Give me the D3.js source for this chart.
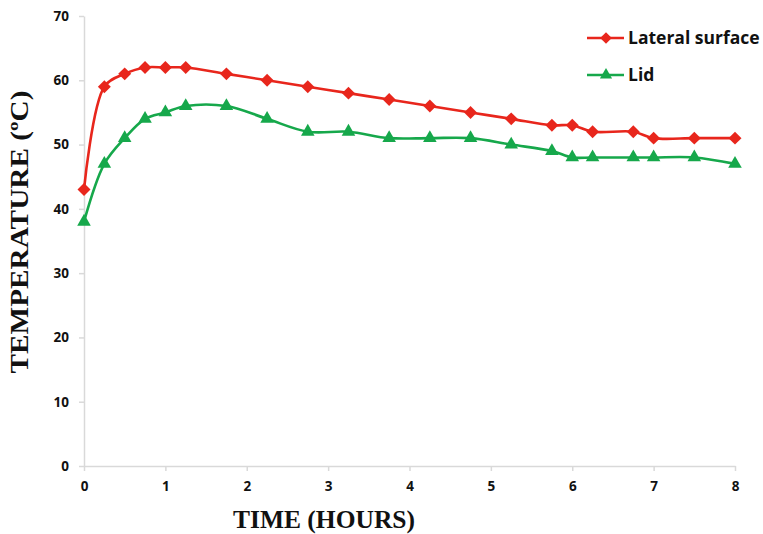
<!DOCTYPE html>
<html>

<head>
    <title>
        Temperature Chart
    </title>
    <script src="https://cdn.jsdelivr.net/npm/d3@7/dist/d3.min.js"></script>
    <style>
        body { margin: 0; background: #fff; }
    </style>
</head>

<body>
    <svg></svg>
    <script>
        const width = 763;
        const height = 534;
        const padding = { top: 16, bottom: 68, left: 84, right: 28 };

        // data
        const hours = [0, 0.25, 0.5, 0.75, 1, 1.25, 1.75, 2.25, 2.75, 3.25, 3.75, 4.25, 4.75, 5.25, 5.75, 6, 6.25, 6.75, 7, 7.5, 8];
        const lateral = [43, 59, 61, 62, 62, 62, 61, 60, 59, 58, 57, 56, 55, 54, 53, 53, 52, 52, 51, 51, 51];
        const lid = [38, 47, 51, 54, 55, 56, 56, 54, 52, 52, 51, 51, 51, 50, 49, 48, 48, 48, 48, 48, 47];
        const xTicks = [0, 1, 2, 3, 4, 5, 6, 7, 8];
        const yTicks = [0, 10, 20, 30, 40, 50, 60, 70];

        // square turned on its corner, wider than d3's own diamond
        const squareDiamond = {
            draw(context, size) {
                const r = Math.sqrt(size / 2);
                context.moveTo(0, -r);
                context.lineTo(r, 0);
                context.lineTo(0, r);
                context.lineTo(-r, 0);
                context.closePath();
            }
        };

        const series = [
            { name: "Lateral surface", values: lateral, color: "#e8261c", marker: squareDiamond, size: 84 },
            { name: "Lid", values: lid, color: "#16a84b", marker: d3.symbolTriangle, size: 80 }
        ];

        let svg = d3.select("svg")
            .attr("width", width)
            .attr("height", height);

        let xScale = d3.scaleLinear()
            .domain([0, 8])
            .range([padding.left, width - padding.right]);

        let yScale = d3.scaleLinear()
            .domain([0, 70])
            .range([height - padding.bottom, padding.top]);

        let xAxis = d3.axisBottom(xScale)
            .tickValues(xTicks)
            .tickSize(5)
            .tickPadding(8)
            .tickSizeOuter(0);
        let yAxis = d3.axisLeft(yScale)
            .tickValues(yTicks)
            .tickSize(5)
            .tickPadding(10)
            .tickSizeOuter(0);

        let gx = svg.append("g")
            .attr("transform", "translate(0," + (height - padding.bottom) + ")")
            .call(xAxis);
        let gy = svg.append("g")
            .attr("transform", "translate(" + padding.left + ",0)")
            .call(yAxis);

        [gx, gy].forEach(g => {
            g.selectAll("path, line").attr("stroke", "#d9d9d9").attr("stroke-width", 1.5);
            g.selectAll("text")
                .attr("fill", "#111")
                .style("font-family", "'Open Sans', sans-serif")
                .style("font-weight", "bold")
                .style("font-size", "13.5px");
        });
        gx.selectAll("text").attr("dy", "0.9em");

        let line = d3.line()
            .x((d) => xScale(d[0]))
            .y((d) => yScale(d[1]))
            .curve(d3.curveCatmullRom.alpha(0.5));

        series.forEach(s => {
            let pts = hours.map((h, i) => [h, s.values[i]]);
            svg.append("path")
                .attr("d", line(pts))
                .attr("fill", "none")
                .attr("stroke", s.color)
                .attr("stroke-width", 2.6);
            svg.append("g")
                .selectAll("path")
                .data(pts)
                .enter()
                .append("path")
                .attr("transform", (d) => "translate(" + xScale(d[0]) + "," + yScale(d[1]) + ")")
                .attr("d", d3.symbol().type(s.marker).size(s.size))
                .attr("fill", s.color);
        });

        // legend
        let legend = svg.append("g").attr("transform", "translate(587,38)");
        series.forEach((s, i) => {
            let lg = legend.append("g").attr("transform", "translate(0," + (i * 37) + ")");
            lg.append("line")
                .attr("x1", 0).attr("x2", 37)
                .attr("stroke", s.color).attr("stroke-width", 2.6);
            lg.append("path")
                .attr("transform", "translate(19,0)")
                .attr("d", d3.symbol().type(s.marker).size(s.size * 0.8))
                .attr("fill", s.color);
            lg.append("text")
                .attr("x", 41)
                .attr("dy", "0.35em")
                .text(s.name)
                .attr("fill", "#111")
                .style("font-family", "'Open Sans', sans-serif")
                .style("font-weight", "bold")
                .style("font-size", "17.5px");
        });

        // axis titles
        svg.append("text")
            .attr("x", 324)
            .attr("y", 528)
            .attr("text-anchor", "middle")
            .attr("textLength", 182)
            .attr("lengthAdjust", "spacingAndGlyphs")
            .style("font-family", "'Liberation Serif', 'Times New Roman', serif")
            .style("font-weight", "bold")
            .style("font-size", "25px")
            .attr("fill", "#111")
            .text("TIME (HOURS)");

        svg.append("text")
            .attr("transform", "translate(28,232) rotate(-90)")
            .attr("text-anchor", "middle")
            .attr("textLength", 283)
            .attr("lengthAdjust", "spacingAndGlyphs")
            .style("font-family", "'Liberation Serif', 'Times New Roman', serif")
            .style("font-weight", "bold")
            .style("font-size", "25px")
            .attr("fill", "#111")
            .text("TEMPERATURE (\u00BAC)");
    </script>
</body>

</html>
